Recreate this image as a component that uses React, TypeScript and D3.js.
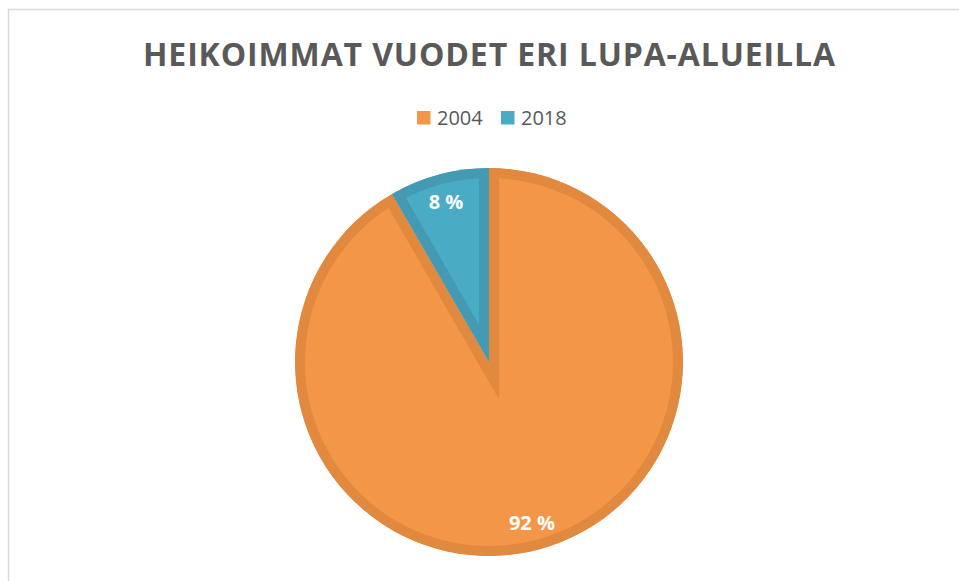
import React from "react";
import * as d3 from "d3";

const TITLE = "HEIKOIMMAT VUODET ERI LUPA-ALUEILLA";
const categories = ["2004", "2018"];
const values = [11, 1];
const labels = ["92 %", "8 %"];
const fills = ["#f49647", "#4aabc5"];
const strokes = ["#e0893f", "#4499b3"];

const W = 959;
const H = 581;
const FONT = "'Open Sans', Lato, sans-serif";

export default function App() {
  const cx = 489;
  const cy = 362;
  const R = 194;
  const pie = d3.pie<number>().sort(null).value((d) => d);
  const arcs = pie(values);
  const arc = d3.arc<d3.PieArcDatum<number>>().innerRadius(0).outerRadius(R);
  const labelArc = d3
    .arc<d3.PieArcDatum<number>>()
    .innerRadius(166)
    .outerRadius(166);

  return (
    <div style={{ position: "fixed", left: 0, top: 0, width: W, height: H, background: "#fff" }}>
      <svg width={W} height={H} style={{ display: "block" }}>
        <rect x={8.5} y={9.5} width={W + 20} height={H + 20} fill="#fff" stroke="#d9d9d9" strokeWidth={1.5} />
        <text
          x={489}
          y={66}
          textAnchor="middle"
          fontFamily={FONT}
          fontWeight={700}
          fontSize={32}
          fill="#595959"
          textLength={692}
          lengthAdjust="spacing"
        >
          {TITLE}
        </text>
        {/* legend */}
        {categories.map((c, i) => {
          const lx = i === 0 ? 417 : 501;
          return (
            <g key={c}>
              <rect x={lx} y={111} width={13.5} height={13.5} fill={fills[i]} />
              <text x={lx + 20} y={125} fontFamily={FONT} fontSize={20} fill="#595959">
                {c}
              </text>
            </g>
          );
        })}
        <defs>
          {arcs.map((a, i) => (
            <clipPath id={`clip${i}`} key={i}>
              <path d={arc(a) || ""} />
            </clipPath>
          ))}
        </defs>
        <g transform={`translate(${cx},${cy})`}>
          {arcs.map((a, i) => (
            <path
              key={i}
              d={arc(a) || ""}
              fill={fills[i]}
              stroke={strokes[i]}
              strokeWidth={20}
              strokeLinejoin="miter"
              clipPath={`url(#clip${i})`}
            />
          ))}
          {arcs.map((a, i) => {
            const [x, y] = labelArc.centroid(a);
            return (
              <text
                key={`l${i}`}
                x={x}
                y={y}
                dy="0.36em"
                textAnchor="middle"
                fontFamily={FONT}
                fontWeight={700}
                fontSize={20}
                fill="#ffffff"
              >
                {labels[i]}
              </text>
            );
          })}
        </g>
      </svg>
    </div>
  );
}
